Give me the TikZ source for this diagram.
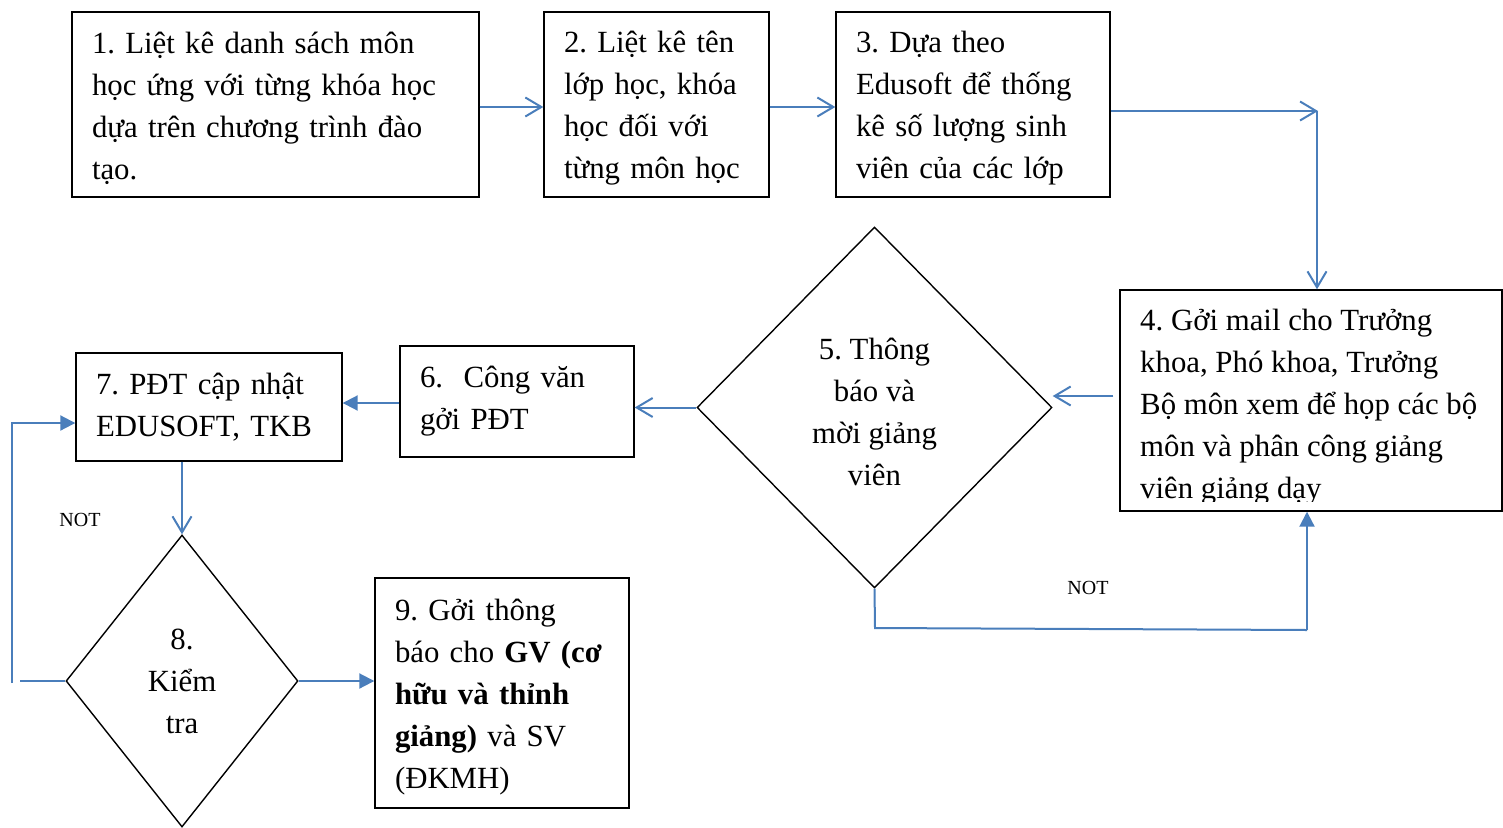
\documentclass[tikz,border=0pt]{standalone}
\usepackage{fontspec}
\setmainfont{Liberation Serif}
\usetikzlibrary{shapes.geometric,arrows.meta}
\definecolor{flow}{RGB}{74,126,187}
\begin{document}
\frenchspacing
\begin{tikzpicture}[x=1pt,y=-1pt,
  every node/.style={font=\fontsize{30.8}{42}\selectfont},
  box/.style={draw=black,line width=1.4pt,inner xsep=20pt,inner ysep=2pt,align=left},
  decision/.style={diamond,draw=black,line width=1.4pt,inner sep=0pt,align=center},
  oarrow/.style={draw=flow,line width=2pt,-{Straight Barb[length=16pt,width=19pt,line width=2pt]}},
  farrow/.style={draw=flow,line width=2pt,-{Triangle[length=15pt,width=15pt]}},
  fline/.style={draw=flow,line width=2pt},
  note/.style={font=\fontsize{20}{24}\selectfont}]
\useasboundingbox (0,0) rectangle (1503,827);

% process steps
\node[box,minimum width=407pt,minimum height=185pt,text width=367pt] (b1) at (275.5,104.5)
  {\strut 1. Liệt kê danh sách môn\\học ứng với từng khóa học\\dựa trên chương trình đào\\tạo.};
\node[box,minimum width=225pt,minimum height=185pt,text width=185pt] (b2) at (656.5,104.5)
  {\strut 2. Liệt kê tên\\lớp học, khóa\\học đối với\\từng môn học};
\node[box,minimum width=274pt,minimum height=185pt,text width=234pt] (b3) at (973,104.5)
  {\strut 3. Dựa theo\\Edusoft để thống\\kê số lượng sinh\\viên của các lớp};
\node[box,minimum width=382pt,minimum height=221pt] (b4) at (1311,400.5) {};
\begin{scope}
  \clip (1121,291) rectangle (1502,501);
  \node[align=left,anchor=north west,inner sep=0pt] (t4) at (1140,309)
    {4. Gởi mail cho Trưởng\\khoa, Phó khoa, Trưởng\\Bộ môn xem để họp các bộ\\môn và phân công giảng\\viên giảng dạy};
\end{scope}
\node[decision,minimum width=355pt,minimum height=361pt] (d5) at (874.5,407.5)
  {\strut 5. Thông\\báo và\\mời giảng\\viên};
\node[box,minimum width=234pt,minimum height=111pt,text width=194pt] (b6) at (517,401.5)
  {6.~ Công văn\\gởi PĐT};
\node[box,minimum width=266pt,minimum height=108pt,text width=226pt] (b7) at (209,407)
  {7. PĐT cập nhật\\EDUSOFT, TKB};
\node[decision,minimum width=232pt,minimum height=292pt] (d8) at (182,681)
  {8.\\Kiểm\\tra};
\node[box,minimum width=254pt,minimum height=230pt,text width=214pt] (b9) at (502,693)
  {\strut 9. Gởi thông\\báo cho \textbf{GV (cơ}\\\textbf{hữu và thỉnh}\\\textbf{giảng)} và SV\\(ĐKMH)};

\node[note] (n1) at (80,520) {NOT};
\node[note] (n2) at (1088,588) {NOT};

% helper points for the connectors
\coordinate (c3) at (1318,111);
\coordinate (y107) at (0,107);
\coordinate (y396) at (0,396);
\coordinate (y403) at (0,403);
\coordinate (c5a) at (875,628);
\coordinate (c5b) at (1307,630);
\coordinate (s8) at (20,681);
\coordinate (l8a) at (12,683);
\coordinate (l8b) at (12,423);

% connectors
\draw[oarrow] (b1.east |- y107) -- (b2.west |- y107);
\draw[oarrow] (b2.east |- y107) -- (b3.west |- y107);
\draw[oarrow] (b3.east |- c3) -- (c3);
\draw[oarrow] ([xshift=-1pt]c3) -- ([xshift=-1pt]c3 |- b4.north);
\draw[oarrow] ([xshift=-6pt]b4.west |- y396) -- (d5.east |- y396);
\draw[oarrow] (d5.west) -- (b6.east |- d5.west);
\draw[farrow] (b6.west |- y403) -- (b7.east |- y403);
\draw[oarrow] (d8.north |- b7.south) -- (d8.north);
\draw[farrow] (d8.east) -- (b9.west |- d8.east);
\draw[fline] (d8.west) -- (s8);
\draw[farrow] (l8a) -- (l8b) -- (b7.west |- l8b);
\draw[fline] (d5.south) -- (c5a) -- (c5b);
\draw[farrow] (c5b) -- (c5b |- b4.south);
\end{tikzpicture}
\end{document}
